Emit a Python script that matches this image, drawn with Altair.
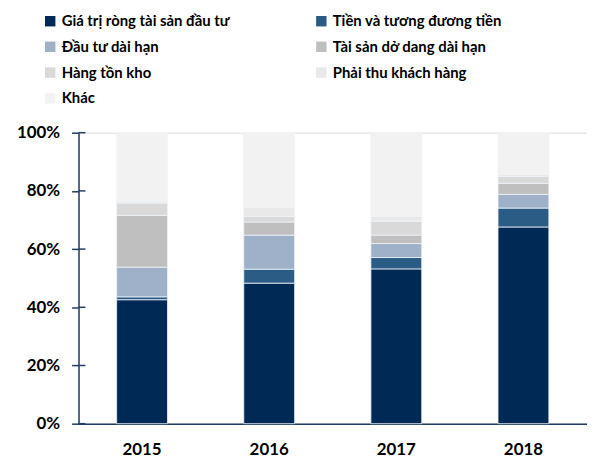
import altair as alt
import pandas as pd

years = ["2015", "2016", "2017", "2018"]
categories = [
    "Giá trị ròng tài sản đầu tư",
    "Tiền và tương đương tiền",
    "Đầu tư dài hạn",
    "Tài sản dở dang dài hạn",
    "Hàng tồn kho",
    "Phải thu khách hàng",
    "Khác",
]
colors = ["#002a56", "#2a5c86", "#9fb0c9", "#bfbfbf", "#d9d9d9", "#e9e9e9", "#f2f2f2"]

gia_tri_rong = [42.6, 48.3, 53.2, 67.6]
tien = [1.0, 4.8, 3.9, 6.5]
dau_tu_dai_han = [10.2, 11.7, 4.8, 4.7]
tai_san_do_dang = [17.8, 4.5, 2.9, 3.8]
hang_ton_kho = [4.2, 1.9, 4.8, 2.4]
phai_thu = [0.6, 3.0, 1.6, 0.6]
khac = [23.6, 25.8, 28.8, 14.4]

series = [gia_tri_rong, tien, dau_tu_dai_han, tai_san_do_dang, hang_ton_kho, phai_thu, khac]
rows = []
for ci, (cat, vals) in enumerate(zip(categories, series)):
    for y, v in zip(years, vals):
        rows.append({"year": y, "cat": cat, "value": v / 100.0, "ord": ci})
df = pd.DataFrame(rows)

FONT = "Lato"

bars = alt.Chart(df).mark_bar(stroke="#eef2f7", strokeWidth=0.8).encode(
    x=alt.X("year:N", title=None,
            scale=alt.Scale(paddingInner=0.6, paddingOuter=0.3),
            axis=alt.Axis(labelAngle=0, labelFont=FONT, labelFontSize=17, labelFontWeight="bold",
                          labelColor="#000000", ticks=False, labelPadding=18,
                          domainColor="#1f3f66", domainWidth=1.5)),
    y=alt.Y("value:Q", title=None, stack="zero",
            scale=alt.Scale(domain=[0, 1], nice=False),
            axis=alt.Axis(format="%", values=[0, 0.2, 0.4, 0.6, 0.8, 1.0], grid=False,
                          labelFont=FONT, labelFontSize=17, labelFontWeight="bold",
                          labelColor="#000000", tickColor="#1f3f66", tickSize=7, tickWidth=1.5,
                          labelPadding=12, domainColor="#1f3f66", domainWidth=1.5)),
    color=alt.Color("cat:N", scale=alt.Scale(domain=categories, range=colors),
                    legend=alt.Legend(title=None, orient="none", legendX=-36, legendY=-120,
                                      direction="horizontal",
                                      columns=2, columnPadding=84, rowPadding=10,
                                      symbolType="square", symbolSize=110, symbolStrokeWidth=0,
                                      labelFont=FONT, labelFontSize=15, labelFontWeight="bold",
                                      labelColor="#000000", labelOffset=4, labelLimit=300)),
    order=alt.Order("ord:Q", sort="ascending"),
)

tick_df = pd.DataFrame({"v": [0, 0.2, 0.4, 0.6, 0.8, 1.0]})
inner_ticks = alt.Chart(tick_df).mark_rule(color="#1f3f66", strokeWidth=1.5).encode(
    y=alt.Y("v:Q"),
    x=alt.value(0),
    x2=alt.value(7),
)

chart = alt.layer(bars, inner_ticks).properties(
    width=512, height=293,
    padding={"left": 8, "top": 4, "right": 0, "bottom": 0},
).configure_view(stroke=None).configure(font=FONT)

chart.save("out.html", embed_options={"renderer": "svg", "actions": False})
